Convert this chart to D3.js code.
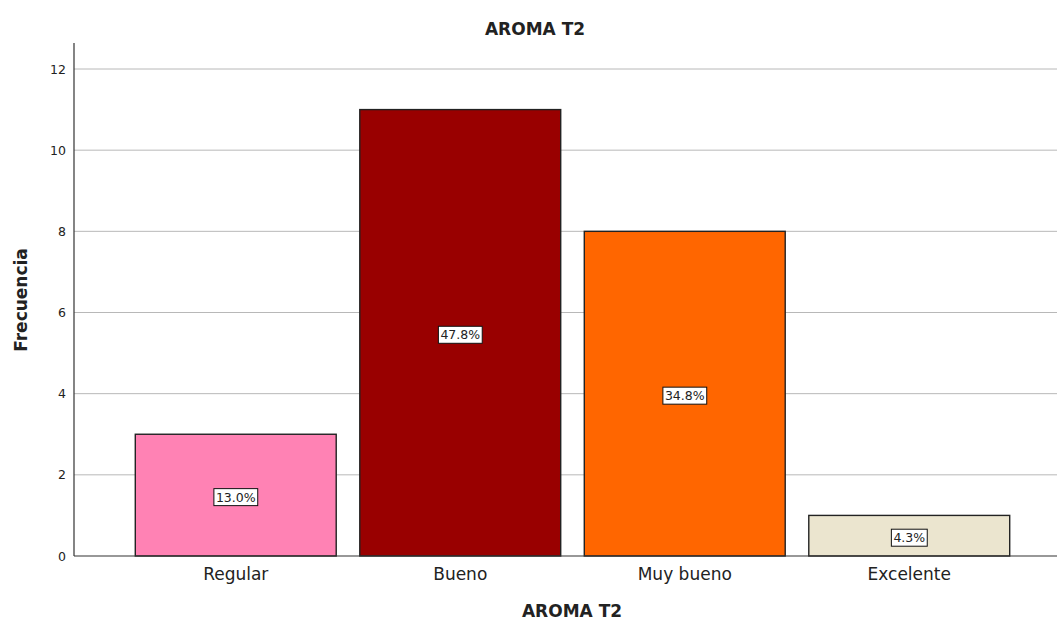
<!DOCTYPE html>
<html>
<head>
<meta charset="utf-8">
<script src="https://cdn.jsdelivr.net/npm/d3@7"></script>
<style>
  html, body { margin: 0; padding: 0; background: #fff; }
  svg { display: block; font-family: "DejaVu Sans", sans-serif; }
</style>
</head>
<body>
<svg id="chart" width="1057" height="623"></svg>
<script>
// Frequency counts per aroma rating
const categories = ["Regular", "Bueno", "Muy bueno", "Excelente"];
const counts = [3, 11, 8, 1];
const percentLabels = ["13.0%", "47.8%", "34.8%", "4.3%"];
const barColors = ["#FF82B4", "#990000", "#FF6600", "#EBE5CF"];
const yTicks = [0, 2, 4, 6, 8, 10, 12];

const svg = d3.select("#chart");

const axisLeft = 74, plotRight = 1057, plotTop = 43, plotBottom = 556;

const x = d3.scaleBand()
  .domain(categories)
  .range([123.5, 1021.5])
  .paddingInner(0.105)
  .paddingOuter(0.0525);

const y = d3.scaleLinear()
  .domain([0, 12])
  .range([plotBottom, 69]);

// Horizontal grid lines
svg.append("g")
  .selectAll("line")
  .data(yTicks.filter(d => d > 0))
  .join("line")
  .attr("x1", axisLeft).attr("x2", plotRight)
  .attr("y1", d => y(d)).attr("y2", d => y(d))
  .attr("stroke", "#b8b8b8").attr("stroke-width", 1);

// Bars
svg.append("g")
  .selectAll("rect")
  .data(categories)
  .join("rect")
  .attr("x", d => x(d))
  .attr("y", (d, i) => y(counts[i]))
  .attr("width", x.bandwidth())
  .attr("height", (d, i) => y(0) - y(counts[i]))
  .attr("fill", (d, i) => barColors[i])
  .attr("stroke", "#222").attr("stroke-width", 1.4);

// Y axis
const yAxis = d3.axisLeft(y).tickValues(yTicks).tickSize(0).tickPadding(8);
const gy = svg.append("g").attr("transform", `translate(${axisLeft},0)`).call(yAxis);
gy.select(".domain").remove();
gy.selectAll("text").attr("font-size", 12.5).attr("fill", "#222")
  .attr("font-family", "DejaVu Sans, sans-serif");
svg.append("line")
  .attr("x1", axisLeft).attr("x2", axisLeft)
  .attr("y1", plotTop).attr("y2", plotBottom)
  .attr("stroke", "#333").attr("stroke-width", 1.2);

// X axis
const xAxis = d3.axisBottom(x).tickSize(0).tickPadding(12);
const gx = svg.append("g").attr("transform", `translate(0,${plotBottom})`).call(xAxis);
gx.select(".domain").remove();
gx.selectAll("text").attr("font-size", 17).attr("fill", "#222")
  .attr("font-family", "DejaVu Sans, sans-serif");
svg.append("line")
  .attr("x1", axisLeft).attr("x2", plotRight)
  .attr("y1", plotBottom).attr("y2", plotBottom)
  .attr("stroke", "#333").attr("stroke-width", 1.2);

// Percentage labels in boxes at bar centres
const labels = svg.append("g")
  .selectAll("g")
  .data(categories)
  .join("g")
  .attr("transform", (d, i) =>
    `translate(${x(d) + x.bandwidth() / 2},${(y(counts[i]) + y(0)) / 2 + 2})`);

labels.append("text")
  .attr("text-anchor", "middle")
  .attr("dominant-baseline", "central")
  .attr("font-size", 12.5)
  .attr("fill", "#222")
  .text((d, i) => percentLabels[i])
  .each(function () {
    const b = this.getBBox();
    d3.select(this.parentNode).insert("rect", "text")
      .attr("x", b.x - 2).attr("y", b.y - 1)
      .attr("width", b.width + 4).attr("height", b.height + 2)
      .attr("fill", "#fff").attr("stroke", "#111").attr("stroke-width", 1);
  });

// Titles
svg.append("text")
  .attr("x", 535).attr("y", 35)
  .attr("text-anchor", "middle")
  .attr("font-size", 17).attr("font-weight", "bold").attr("fill", "#222")
  .text("AROMA T2");

svg.append("text")
  .attr("x", 572).attr("y", 617)
  .attr("text-anchor", "middle")
  .attr("font-size", 17).attr("font-weight", "bold").attr("fill", "#222")
  .text("AROMA T2");

svg.append("text")
  .attr("transform", "translate(27,300) rotate(-90)")
  .attr("text-anchor", "middle")
  .attr("font-size", 17).attr("font-weight", "bold").attr("fill", "#222")
  .text("Frecuencia");
</script>
</body>
</html>
